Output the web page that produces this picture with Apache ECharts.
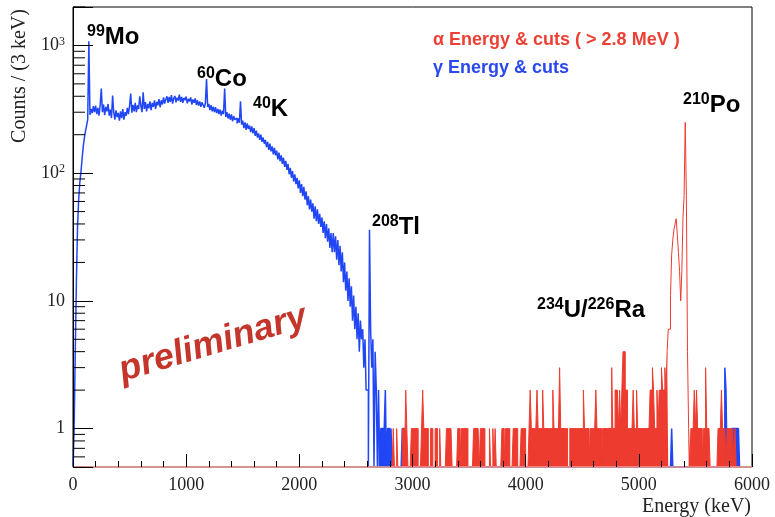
<!DOCTYPE html>
<html><head><meta charset="utf-8">
<script src="https://cdn.jsdelivr.net/npm/echarts@6/dist/echarts.min.js"></script>
<style>html,body{margin:0;padding:0;background:#fff}#c{width:775px;height:517px}</style>
</head><body><div id="c"></div>
<script>
// ---------- data (counts per bin, bin width 10 keV) ----------
const binWidth = 10;
const gammaStart = 0;
const gammaCounts = [
 0,1,4,14,38,62,84,102,128,160,
 188,212,236,262,1080,286,318,295,335,300,
 338,290,325,282,340,460,300,345,285,330,
 305,348,282,315,270,405,300,262,310,275,
 296,258,305,270,318,262,300,282,325,290,
 338,420,298,342,305,355,300,340,318,400,
 335,300,430,318,360,305,348,322,365,312,
 355,330,372,318,362,340,380,328,372,345,
 392,350,378,400,355,395,362,408,350,385,
 402,358,390,370,412,362,395,355,388,372,
 398,352,382,365,392,345,378,355,385,342,
 372,338,365,330,358,342,325,355,545,330,
 348,312,340,305,332,300,328,295,318,290,
 315,282,308,290,460,275,300,268,292,262,
 288,255,280,262,270,245,268,248,365,240,
 258,225,250,218,245,222,236,210,232,205,
 225,196,215,190,205,182,200,176,190,170,
 182,160,176,152,170,148,162,140,158,138,
 150,128,145,124,138,118,132,112,125,106,
 118,98,110,92,104,86,98,82,92,76,
 88,70,82,66,78,62,72,56,66,52,
 62,50,58,44,55,42,52,40,48,38,
 45,34,42,31,40,29,37,26,34,24,
 34,24,32,21,30,19,27,17,24,14,
 20,12,17,10,15,9,13,7,11,6,
 9,5,8,4,7,5,6,3,5,2,
 2,0,36,6,3,5,0,4,2,0,
 2,0,1,1,0,1,2,0,1,1
];
// isolated gamma counts above 2.8 MeV: [energy, counts]
const gammaTail = [[2810,1],[2910,1],[2920,1],[2930,1],[5290,1],[5760,3],[5770,2],[5820,1],[5830,1],[5840,1],[5850,1],[5860,1],[5870,1],[5880,1]];
const gammaEnd = 5900;

const alphaStart = 2800;
const alphaCounts = [
 0,0,0,1,0,0,1,0,0,0,
 0,1,1,0,2,1,0,0,0,1,
 1,1,1,1,1,0,0,0,1,2,
 1,1,1,1,0,0,1,1,0,0,
 1,1,0,0,1,0,0,0,0,0,
 1,1,1,1,1,0,0,0,0,0,
 1,1,0,1,1,1,1,1,1,0,
 0,0,0,0,1,1,1,1,1,0,
 1,1,1,1,0,0,0,0,1,0,
 0,1,0,1,0,0,0,0,0,1,
 1,0,1,1,1,1,0,0,0,1,
 1,1,1,0,0,0,1,1,1,1,
 0,0,0,1,2,1,1,1,1,1,
 2,1,1,1,1,2,1,1,1,1,
 1,1,1,1,2,1,1,1,1,1,
 3,1,1,1,1,1,1,0,0,1,
 1,1,1,1,1,1,1,1,1,1,
 1,2,1,1,1,1,0,1,1,1,
 1,1,2,1,1,1,1,0,1,1,
 1,1,1,1,1,1,3,1,1,2,
 2,2,1,2,1,2,4,4,2,2,
 1,1,1,1,1,2,1,1,2,1,
 1,1,1,1,1,1,1,1,1,1,
 2,2,3,2,1,1,2,1,2,2,
 3,2,2,3,2,4,6,6,11,23,
 30,36,40,44,33,24,17,10,17,44,
 67,250,67,4,1,0,1,1,1,2,
 1,2,1,1,1,1,0,1,1,3,
 1,1,1,0,0,0,0,0,0,0,
 1,1,1,2,1,1,1,0,1,1,
 1,1,0,1,0,1,0,0,0,0
];
const xTickValues = [0,1000,2000,3000,4000,5000,6000];
const yDecades = [1,10,100,1000];

// ---------- layout / style parameters ----------
const Y_MIN = 0.5, Y_MAX = 2000;
const alphaOutlineOnly = [5260, 5440];   // keV range drawn as outline only (peak)
const gammaFillFrom = 2700;              // keV: low-count gamma region drawn dense
const RED = '#ee3b2f', BLUE = '#2046f5';

// ---------- build bins ----------
function binsFrom(start, counts){ return counts.map((c,i)=>[start + i*binWidth, c]); }
const gammaBins = binsFrom(gammaStart, gammaCounts);
{
  const tailMap = new Map(gammaTail.map(d=>[d[0], d[1]]));
  for (let e = gammaStart + gammaCounts.length*binWidth; e < gammaEnd; e += binWidth) gammaBins.push([e, tailMap.get(e) || 0]);
}
const alphaBins = binsFrom(alphaStart, alphaCounts);

function steps(bins){
  const pts = [];
  bins.forEach(([e,c]) => pts.push([e, c > 0 ? c : Y_MIN]));
  const last = bins[bins.length-1];
  pts.push([last[0] + binWidth, last[1] > 0 ? last[1] : Y_MIN]);
  pts.push([last[0] + binWidth, Y_MIN]);
  return pts;
}
const lineBase = {type:'line', step:'end', showSymbol:false, symbol:'none', silent:true, animation:false, clip:true};

const series = [
  Object.assign({}, lineBase, {name:'gamma', data: steps(gammaBins), lineStyle:{color:BLUE, width:1.5}, z:2}),
  Object.assign({}, lineBase, {name:'gammaFill', data: steps(gammaBins.filter(b=>b[0]>=gammaFillFrom)),
     lineStyle:{width:0, opacity:0}, areaStyle:{color:BLUE, opacity:1, origin:'start'}, z:2}),
  Object.assign({}, lineBase, {name:'alpha', data: steps(alphaBins), lineStyle:{color:RED, width:1}, z:3}),
  Object.assign({}, lineBase, {name:'alphaFillA', data: steps(alphaBins.filter(b=>b[0]<alphaOutlineOnly[0])),
     lineStyle:{width:0, opacity:0}, areaStyle:{color:RED, opacity:1, origin:'start'}, z:3}),
  Object.assign({}, lineBase, {name:'alphaFillB', data: steps(alphaBins.filter(b=>b[0]>=alphaOutlineOnly[1])),
     lineStyle:{width:0, opacity:0}, areaStyle:{color:RED, opacity:1, origin:'start'}, z:3})
];

// minor log ticks on the y axis
const yMinorTicks = [];
for (let d = 0.1; d < Y_MAX; d *= 10) for (let k = 2; k <= 9; k++) {
  const v = +(k*d).toPrecision(3);
  if (v >= Y_MIN && v <= Y_MAX) yMinorTicks.push([0, v]);
}
series.push({
  type:'custom', silent:true, animation:false, clip:false, z:10,
  data: yMinorTicks,
  renderItem: (params, api) => {
    const p = api.coord([0, api.value(1)]);
    return {type:'line', shape:{x1:p[0], y1:p[1], x2:p[0]+12, y2:p[1]}, style:{stroke:'#000', lineWidth:1}};
  }
});

const serif = 'Liberation Serif, Times New Roman, serif';
const sans = 'Liberation Sans, Arial, sans-serif';

function supLabel(v){
  const e = Math.round(Math.log10(v));
  if (e === 0) return '{b|1}';
  if (e === 1) return '{b|10}';
  return '{b|10}{s|' + e + '}';
}

const chart = echarts.init(document.getElementById('c'), null, {renderer:'canvas'});
chart.setOption({
  backgroundColor:'#fff',
  animation:false,
  grid:{left:73, right:23, top:7, bottom:50, show:true, borderColor:'#000', borderWidth:1, backgroundColor:'transparent'},
  xAxis:{
    type:'value', min:0, max:6000, interval:1000, z:20,
    axisLine:{show:true, onZero:false, lineStyle:{color:'#f29a93', width:1.5}},
    axisTick:{show:true, inside:true, length:13, lineStyle:{color:'#000', width:1}},
    minorTick:{show:true, splitNumber:5, length:6, lineStyle:{color:'#000', width:1}},
    splitLine:{show:false},
    axisLabel:{color:'#222', fontFamily:serif, fontSize:18, margin:9,
      formatter: v => xTickValues.includes(v) ? String(v) : ''}
  },
  yAxis:{
    type:'log', logBase:10, min:Y_MIN, max:Y_MAX, z:20,
    axisLine:{show:true, lineStyle:{color:'#000', width:1}},
    axisTick:{show:true, inside:true, length:20, lineStyle:{color:'#000', width:1}},
    splitLine:{show:false},
    axisLabel:{color:'#222', fontFamily:serif, margin:8,
      formatter: v => { const m = yDecades.find(d => Math.abs(d - v) < 1e-6*d); return m ? supLabel(m) : ''; },
      rich:{
        b:{fontFamily:serif, fontSize:18, lineHeight:20, color:'#222'},
        s:{fontFamily:serif, fontSize:12, lineHeight:12, verticalAlign:'top', color:'#222'}
      }}
  },
  series: series,
  graphic:[
    {type:'text', x:20, y:76, rotation:Math.PI/2, style:{text:'Counts / (3 keV)', font:'20px '+serif, fill:'#222', align:'center', verticalAlign:'middle'}},
    {type:'text', x:751, y:507, style:{text:'Energy (keV)', font:'20px '+serif, fill:'#222', align:'right', verticalAlign:'middle'}},
    {type:'text', x:433, y:40, style:{text:'α Energy & cuts ( > 2.8 MeV )', font:'bold 18px '+sans, fill:'#ec4035', align:'left', verticalAlign:'middle'}},
    {type:'text', x:433, y:68, style:{text:'γ Energy & cuts', font:'bold 18px '+sans, fill:'#2a48ee', align:'left', verticalAlign:'middle'}},
    ...[
      {x:87, y:24, t:'{s|99}{b|Mo}'},
      {x:197, y:66, t:'{s|60}{b|Co}'},
      {x:253, y:96, t:'{s|40}{b|K}'},
      {x:372, y:214, t:'{s|208}{b|Tl}'},
      {x:537, y:297, t:'{s|234}{b|U/}{s|226}{b|Ra}'},
      {x:683, y:92, t:'{s|210}{b|Po}'}
    ].map(a => ({type:'text', x:a.x, y:a.y, z:50, style:{text:a.t, align:'left', verticalAlign:'top',
      rich:{ b:{font:'bold 24px '+sans, lineHeight:26, fill:'#000'}, s:{font:'bold 16px '+sans, lineHeight:16, verticalAlign:'top', fill:'#000'} } }})),
    {type:'text', x:213, y:344, rotation:0.29, z:50, style:{text:'preliminary', font:'italic bold 36px '+sans, fill:'#c4352b', align:'center', verticalAlign:'middle',
      shadowColor:'rgba(0,0,0,0.35)', shadowBlur:3, shadowOffsetX:2, shadowOffsetY:2}}
  ]
});
</script></body></html>
